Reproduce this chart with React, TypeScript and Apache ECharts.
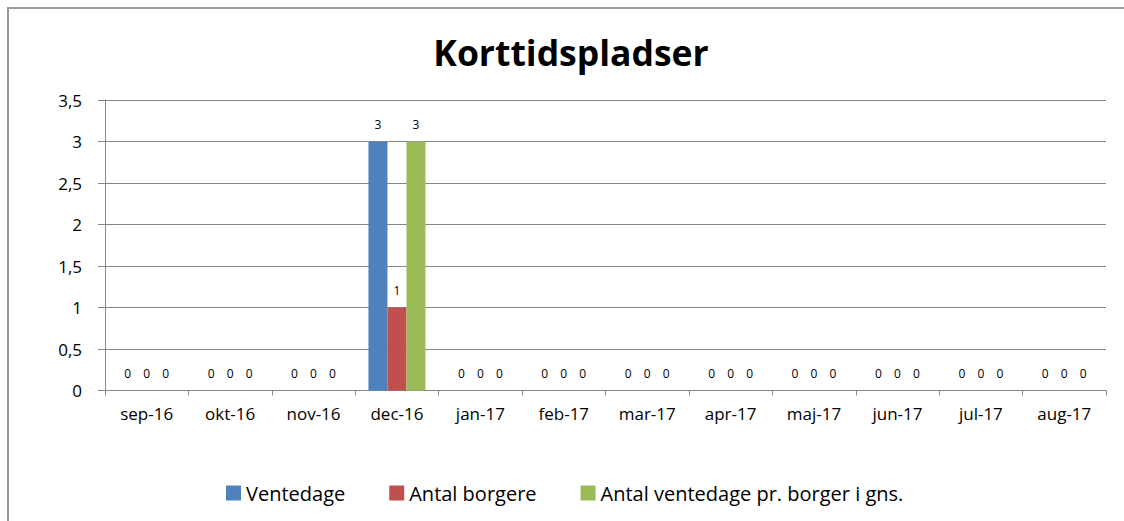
import React, { useEffect, useRef } from "react";
import * as echarts from "echarts";

const categories = ["sep-16", "okt-16", "nov-16", "dec-16", "jan-17", "feb-17", "mar-17", "apr-17", "maj-17", "jun-17", "jul-17", "aug-17"];
const ventedage = [0, 0, 0, 3, 0, 0, 0, 0, 0, 0, 0, 0];
const antalBorgere = [0, 0, 0, 1, 0, 0, 0, 0, 0, 0, 0, 0];
const antalPrBorger = [0, 0, 0, 3, 0, 0, 0, 0, 0, 0, 0, 0];
const seriesNames = ["Ventedage", "Antal borgere", "Antal ventedage pr. borger i gns."];
const seriesColors = ["#4F81BD", "#C0504D", "#9BBB59"];

const FONT = "'Open Sans', sans-serif";

export default function App() {
  const ref = useRef<HTMLDivElement>(null);
  useEffect(() => {
    if (!ref.current) return;
    const chart = echarts.init(ref.current, undefined, { renderer: "svg" });
    const dataSets = [ventedage, antalBorgere, antalPrBorger];
    chart.setOption({
      animation: false,
      backgroundColor: "#ffffff",
      textStyle: { fontFamily: FONT },
      title: {
        text: "Korttidspladser",
        left: 557,
        textAlign: "center",
        top: 20,
        textStyle: { fontFamily: FONT, fontWeight: "bold", fontSize: 35.5, color: "#000" },
      },
      legend: {
        left: 212,
        top: 469,
        itemWidth: 15,
        itemHeight: 15,
        itemGap: 44,
        icon: "rect",
        textStyle: { fontFamily: FONT, fontSize: 20, color: "#000" },
        data: seriesNames,
      },
      grid: { left: 96, top: 91, width: 1001, height: 290.5, containLabel: false },
      xAxis: {
        type: "category",
        data: categories,
        axisLine: { lineStyle: { color: "#868686", width: 1 } },
        axisTick: { show: true, length: 5, lineStyle: { color: "#868686" } },
        axisLabel: { fontFamily: FONT, fontSize: 17, color: "#000", margin: 14 },
      },
      yAxis: {
        type: "value",
        min: 0,
        max: 3.5,
        interval: 0.5,
        axisLine: { show: true, lineStyle: { color: "#868686", width: 1 } },
        axisTick: { show: true, inside: false, length: 7, lineStyle: { color: "#868686" } },
        splitLine: { lineStyle: { color: "#868686", width: 1 } },
        axisLabel: {
          fontFamily: FONT,
          fontSize: 17,
          color: "#000",
          margin: 23,
          formatter: (v: number) => String(v).replace(".", ","),
        },
      },
      series: seriesNames.map((name, i) => ({
        name,
        type: "bar",
        data: dataSets[i],
        barWidth: 19,
        barGap: "0%",
        itemStyle: { color: seriesColors[i] },
        label: {
          show: true,
          position: "top",
          distance: 11,
          fontFamily: FONT,
          fontSize: 12,
          color: "#000",
          textBorderWidth: 0,
        },
      })),
    });
    return () => chart.dispose();
  }, []);
  return (
    <div
      style={{
        position: "fixed",
        left: 7,
        top: 7,
        width: 1130,
        height: 520,
        overflow: "hidden",
        borderTop: "2px solid #9a9a9a",
        borderLeft: "2px solid #9a9a9a",
        background: "#fff",
      }}
    >
      <div ref={ref} style={{ width: 1140, height: 540 }} />
    </div>
  );
}
